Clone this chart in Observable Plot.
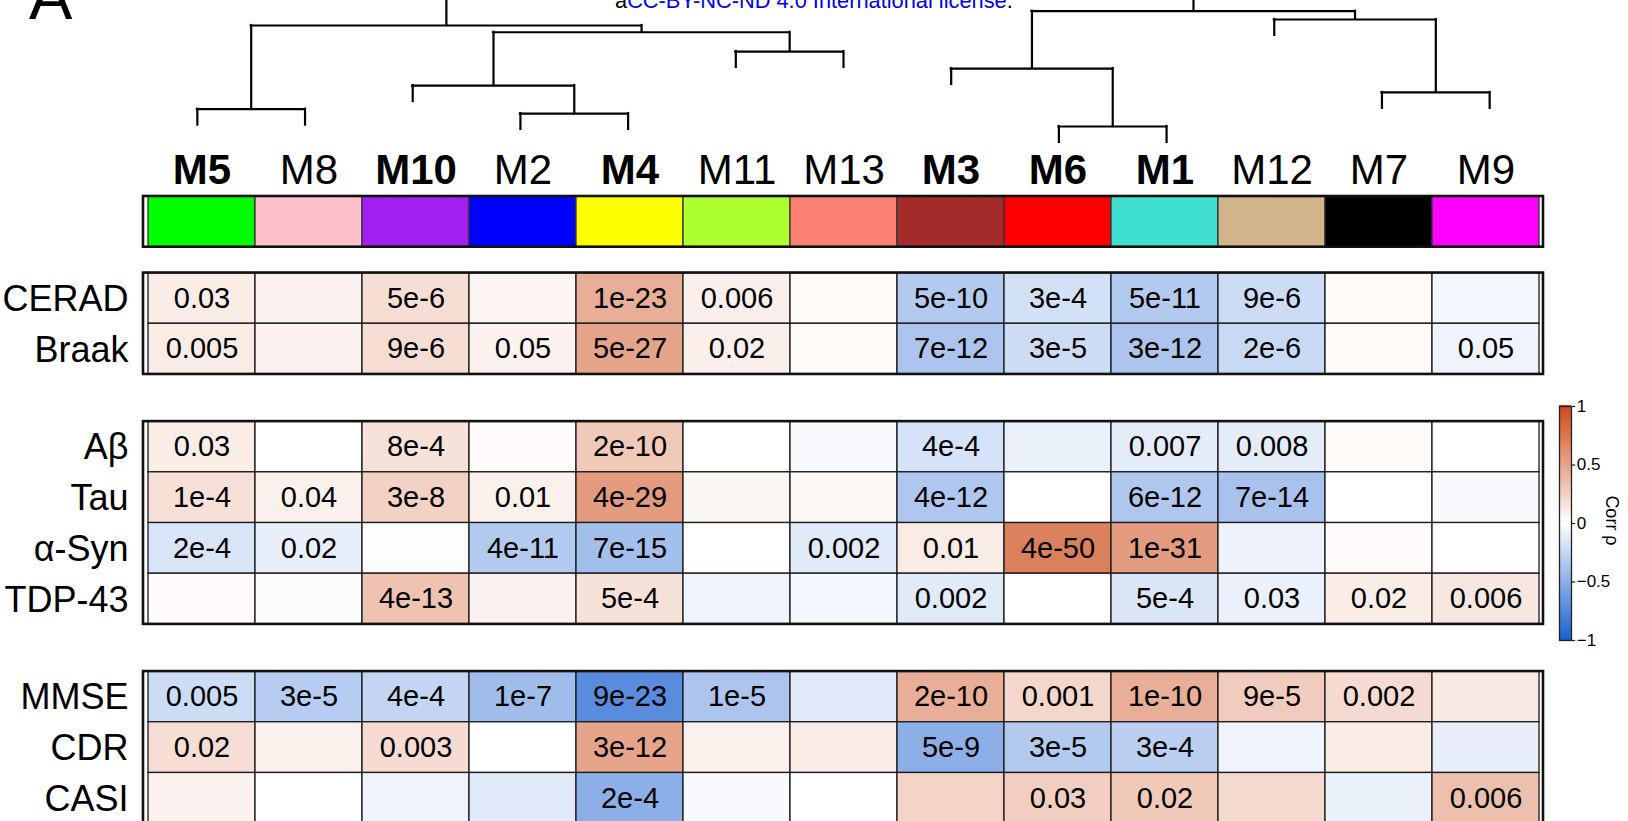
<!DOCTYPE html>
<html>
<head>
<meta charset="utf-8">
<script src="https://cdn.jsdelivr.net/npm/d3@7"></script>
<script src="https://cdn.jsdelivr.net/npm/@observablehq/plot@0.6"></script>
<style>
html, body { margin: 0; padding: 0; background: #fff; overflow: hidden; }
#wrap { position: relative; width: 1628px; height: 821px; overflow: hidden; background: #fff;
  font-family: "Liberation Sans", Arial, Helvetica, sans-serif; }
#wrap > svg, #wrap > div { position: absolute; }
</style>
</head>
<body>
<div id="wrap"></div>
<script>
// ---------------- DATA ----------------
const modules = ["M5","M8","M10","M2","M4","M11","M13","M3","M6","M1","M12","M7","M9"];
const moduleColors = ["#00FF00","#FFC0CB","#A020F0","#0000FF","#FFFF00","#ADFF2F","#FA8072","#A52A2A","#FF0000","#40E0D0","#D2B48C","#000000","#FF00FF"];
const boldModules = ["M5","M10","M4","M3","M6","M1"];
const traitBlocks = [["CERAD","Braak"],["Aβ","Tau","α-Syn","TDP-43"],["MMSE","CDR","CASI"]];

const rhoCERAD = [0.10, 0.07, 0.18, 0.06, 0.45, 0.09, 0.03, -0.33, -0.19, -0.33, -0.22, 0.03, -0.05];
const pCERAD   = ["0.03","","5e-6","","1e-23","0.006","","5e-10","3e-4","5e-11","9e-6","",""];
const rhoBraak = [0.11, 0.07, 0.19, 0.07, 0.50, 0.09, 0.03, -0.36, -0.22, -0.36, -0.24, 0.03, -0.07];
const pBraak   = ["0.005","","9e-6","0.05","5e-27","0.02","","7e-12","3e-5","3e-12","2e-6","","0.05"];
const rhoAbeta = [0.10, 0.00, 0.16, 0.02, 0.30, 0.00, -0.03, -0.18, -0.09, -0.12, -0.12, 0.03, 0.00];
const pAbeta   = ["0.03","","8e-4","","2e-10","","","4e-4","","0.007","0.008","",""];
const rhoTau   = [0.17, 0.08, 0.25, 0.08, 0.55, 0.05, 0.04, -0.35, 0.00, -0.35, -0.38, 0.00, -0.03];
const pTau     = ["1e-4","0.04","3e-8","0.01","4e-29","","","4e-12","","6e-12","7e-14","",""];
const rhoSyn   = [-0.17, -0.10, 0.01, -0.33, -0.40, 0.00, -0.13, 0.11, 0.70, 0.55, -0.08, 0.02, 0.00];
const pSyn     = ["2e-4","0.02","","4e-11","7e-15","","0.002","0.01","4e-50","1e-31","","",""];
const rhoTDP   = [0.02, -0.02, 0.33, 0.07, 0.16, -0.07, -0.05, -0.13, 0.00, -0.16, -0.09, 0.10, 0.13];
const pTDP     = ["","","4e-13","","5e-4","","","0.002","","5e-4","0.03","0.02","0.006"];
const rhoMMSE  = [-0.22, -0.32, -0.26, -0.42, -0.72, -0.36, -0.13, 0.45, 0.22, 0.45, 0.28, 0.20, 0.12];
const pMMSE    = ["0.005","3e-5","4e-4","1e-7","9e-23","1e-5","","2e-10","0.001","1e-10","9e-5","0.002",""];
const rhoCDR   = [0.18, 0.08, 0.20, 0.00, 0.50, 0.08, 0.10, -0.50, -0.33, -0.30, -0.07, 0.10, -0.10];
const pCDR     = ["0.02","","0.003","","3e-12","","","5e-9","3e-5","3e-4","","",""];
const rhoCASI  = [0.07, 0.00, -0.07, -0.14, -0.50, -0.03, 0.00, 0.24, 0.27, 0.30, 0.21, -0.09, 0.35];
const pCASI    = ["","","","","2e-4","","","","0.03","0.02","","","0.006"];

const legendTicks = [-1, -0.5, 0, 0.5, 1];

// dendrogram merges: [node id, child a, child b, merge height]
const dendroMerges = [
  ["n1", "M5", "M8", 0.341],
  ["n2", "M2", "M4", 0.312],
  ["n3", "M10", "n2", 0.498],
  ["n4", "M11", "M13", 0.724],
  ["n5", "n3", "n4", 0.852],
  ["n6", "n1", "n5", 0.897],
  ["n7", "M6", "M1", 0.226],
  ["n8", "M3", "n7", 0.611],
  ["n9", "M7", "M9", 0.452],
  ["n10", "M12", "n9", 0.937],
  ["n11", "n8", "n10", 0.992],
  ["root", "n6", "n11", 1.12]
];
const dendroHang = 0.106;

// ---------------- LAYOUT ----------------
const W = 1628, H = 821;
const gridLeft = 143, gridRight = 1543;
const rowPx = 50.7, stripTopPx = 196;
const stripGap = 0.51, blockGap = 0.93;
const fontFamily = "'Liberation Sans', Arial, Helvetica, sans-serif";

const rhoByTrait = {CERAD: rhoCERAD, Braak: rhoBraak, "Aβ": rhoAbeta, Tau: rhoTau, "α-Syn": rhoSyn, "TDP-43": rhoTDP, MMSE: rhoMMSE, CDR: rhoCDR, CASI: rhoCASI};
const pByTrait = {CERAD: pCERAD, Braak: pBraak, "Aβ": pAbeta, Tau: pTau, "α-Syn": pSyn, "TDP-43": pTDP, MMSE: pMMSE, CDR: pCDR, CASI: pCASI};

const cells = [], rowsInfo = [], blocks = [{y1: 0, y2: 1}];
let rowTop = 1 + stripGap;
for (const traits of traitBlocks) {
  const bTop = rowTop;
  for (const t of traits) {
    rowsInfo.push({trait: t, mid: rowTop + 0.5});
    const y1 = rowTop;
    modules.forEach((m, i) => cells.push({module: m, trait: t, rho: rhoByTrait[t][i], p: pByTrait[t][i], y1: y1, y2: y1 + 1, mid: y1 + 0.5}));
    rowTop += 1;
  }
  blocks.push({y1: bTop, y2: rowTop});
  rowTop += blockGap;
}

const colorScale = {type: "linear", domain: [-1, 0, 1], range: ["#1A5FD0", "#FFFFFF", "#CC4A17"], interpolate: "rgb"};
const wrap = document.getElementById("wrap");

// ---------------- DENDROGRAM ----------------
const nodePos = new Map(modules.map((m, i) => [m, {x: i, h: null}]));
const hSegs = [], vSegs = [];
for (const [id, a, b, h] of dendroMerges) {
  const A = nodePos.get(a), B = nodePos.get(b);
  hSegs.push({x1: A.x, x2: B.x, y: h});
  for (const C of [A, B]) vSegs.push({x: C.x, y1: C.h == null ? h - dendroHang : C.h, y2: h});
  nodePos.set(id, {x: (A.x + B.x) / 2, h});
}
const dendroH = 160;
const dendro = Plot.plot({
  width: W, height: dendroH,
  marginLeft: gridLeft, marginRight: W - gridRight, marginTop: 0, marginBottom: 0,
  x: {domain: [-0.5, modules.length - 0.5], axis: null},
  y: {domain: [0, dendroH / 150.5], axis: null},
  style: {background: "transparent", overflow: "hidden"},
  marks: [
    Plot.ruleY(hSegs, {y: "y", x1: "x1", x2: "x2", stroke: "#000", strokeWidth: 2.2, strokeLinecap: "square"}),
    Plot.ruleX(vSegs, {x: "x", y1: "y1", y2: "y2", stroke: "#000", strokeWidth: 2.2, strokeLinecap: "square"})
  ]
});
dendro.style.left = "0px"; dendro.style.top = "0px";
wrap.appendChild(dendro);

// ---------------- HEATMAP ----------------
const heatH = H + 20;
const heat = Plot.plot({
  width: W, height: heatH,
  marginLeft: gridLeft, marginRight: W - gridRight, marginTop: 0, marginBottom: 0,
  x: {type: "band", domain: modules, padding: 0, axis: null},
  y: {type: "linear", domain: [-stripTopPx / rowPx, (heatH - stripTopPx) / rowPx], reverse: true, axis: null},
  color: colorScale,
  style: {background: "transparent", overflow: "hidden", fontFamily},
  marks: [
    ...modules.map((m, i) => Plot.barY([m], {x: d => d, y1: () => 0, y2: () => 1, fill: moduleColors[i], stroke: "#333", strokeWidth: 1.3})),
    Plot.barY(cells, {x: "module", y1: "y1", y2: "y2", fill: "rho", stroke: "#1a1a1a", strokeWidth: 1.3}),
    Plot.rect(blocks, {y1: "y1", y2: "y2", fill: "none", stroke: "#111", strokeWidth: 2.6}),
    Plot.text(cells.filter(d => d.p), {x: "module", y: "mid", text: "p", fontSize: 29, fill: "#000"}),
    Plot.text(modules.filter(m => boldModules.includes(m)), {x: d => d, y: () => -0.52, text: d => d, fontSize: 42, fontWeight: "bold", fill: "#000"}),
    Plot.text(modules.filter(m => !boldModules.includes(m)), {x: d => d, y: () => -0.52, text: d => d, fontSize: 42, fill: "#000"}),
    Plot.text(rowsInfo, {y: "mid", text: "trait", frameAnchor: "left", textAnchor: "end", dx: -15, dy: 1, fontSize: 36, fill: "#000"})
  ]
});
heat.style.left = "0px"; heat.style.top = "0px";
wrap.appendChild(heat);

// ---------------- COLOUR BAR ----------------
const legendSteps = d3.range(-1, 1, 0.005).map(v => ({y1: v, y2: v + 0.01, v: v + 0.0025}));
const barLeftPx = 1545, barTopPx = 406, barBottomPx = 640, barWidthPx = 12, barInsetPx = 14;
const tickFmt = d3.format("~g");
const cbar = Plot.plot({
  width: W - barLeftPx, height: H,
  marginLeft: barInsetPx, marginRight: W - barLeftPx - barInsetPx - barWidthPx, marginTop: barTopPx, marginBottom: H - barBottomPx,
  x: {domain: [0, 1], axis: null},
  y: {domain: [-1, 1], axis: null},
  color: colorScale,
  style: {background: "transparent", overflow: "visible", fontFamily},
  marks: [
    Plot.rect(legendSteps, {x1: () => 0, x2: () => 1, y1: "y1", y2: "y2", fill: "v", shapeRendering: "crispEdges"}),
    Plot.frame({stroke: "#222", strokeWidth: 1.3}),
    Plot.ruleY(legendTicks, {y: d => d, x1: () => 1, x2: () => 1.35, stroke: "#222", strokeWidth: 1.2}),
    Plot.text(legendTicks, {y: d => d, x: () => 1.35, dx: 1, text: d => tickFmt(d), textAnchor: "start", fontSize: 17, fill: "#000"}),
    Plot.text(["Corr ρ"], {frameAnchor: "right", textAnchor: "middle", dx: 40, dy: -3, rotate: 90, text: d => d, fontSize: 18, fill: "#000"})
  ]
});
cbar.style.left = barLeftPx + "px"; cbar.style.top = "0px";
wrap.appendChild(cbar);

// ---------------- TOP ANNOTATIONS ----------------
const panel = document.createElement("div");
panel.textContent = "A";
panel.style.cssText = "left:29px;top:-35px;font-size:65px;line-height:64px;color:#000;";
wrap.appendChild(panel);

const lic = document.createElement("div");
lic.innerHTML = 'a<span style="color:#0000EE">CC-BY-NC-ND 4.0 International license</span>.';
lic.style.cssText = "left:615px;top:-10px;font-size:21.8px;line-height:21px;color:#000;white-space:nowrap;";
wrap.appendChild(lic);
</script>
</body>
</html>
